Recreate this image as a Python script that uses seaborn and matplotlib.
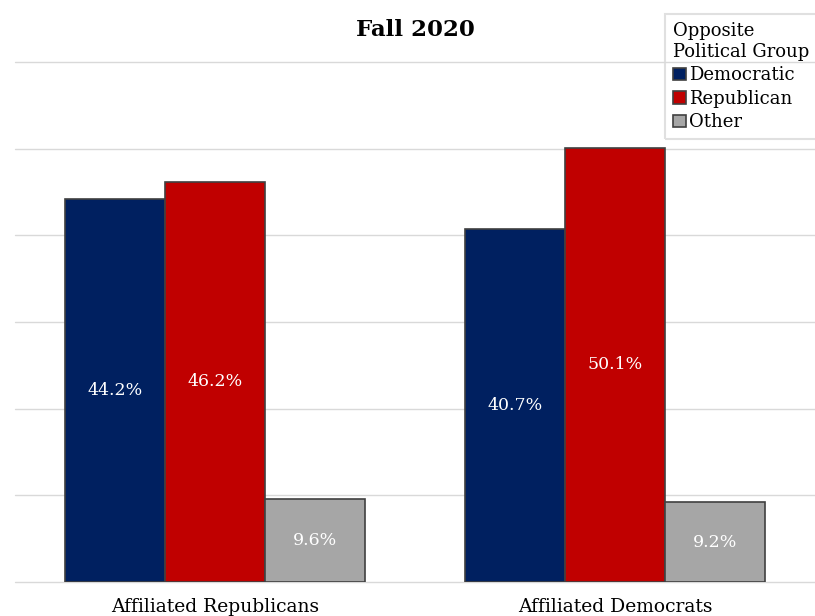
import pandas as pd
import seaborn as sns
import matplotlib.pyplot as plt

plt.switch_backend('Agg')

# Chart data
groups = ["Affiliated Republicans", "Affiliated Democrats"]
series = ["Democratic", "Republican", "Other"]
democratic = [44.2, 40.7]
republican = [46.2, 50.1]
other = [9.6, 9.2]
colors = ["#002060", "#C00000", "#A6A6A6"]

df = pd.DataFrame({
    "group": groups * 3,
    "party": [s for s in series for _ in groups],
    "value": democratic + republican + other,
})

sns.set_style("white")
plt.rcParams['font.family'] = ['DejaVu Serif']
plt.rcParams['text.color'] = 'black'
plt.rcParams['xtick.color'] = 'black'

fig = plt.figure(figsize=(8.15, 6.16), dpi=100)
ax = fig.add_axes([15 / 815, 1 - 582 / 616, 800 / 815, (582 - 62) / 616])

sns.barplot(data=df, x="group", y="value", hue="party", hue_order=series,
            palette=colors, width=0.75, gap=0, edgecolor="#404040",
            linewidth=1.2, saturation=1, ax=ax, legend=True, zorder=3)

# white value labels in the middle of each bar
for cont in ax.containers:
    for bar in cont:
        h = bar.get_height()
        ax.text(bar.get_x() + bar.get_width() / 2, h / 2, f"{h:.1f}%",
                ha="center", va="center", color="white", fontsize=12.5, zorder=4)

ax.set_xlim(-0.5, 1.5)
ax.set_ylim(0, 60)
ax.set_yticks(range(0, 61, 10))
ax.yaxis.grid(True, color="#D9D9D9", linewidth=1)
for gl in ax.get_ygridlines():
    gl.set_clip_on(False)
ax.set_axisbelow(True)
ax.tick_params(axis="y", left=False, labelleft=False)
ax.tick_params(axis="x", bottom=False, labelsize=13.5, pad=8)
ax.set_xlabel("")
ax.set_ylabel("")
for sp in ax.spines.values():
    sp.set_visible(False)

fig.text(415 / 815, 1 - 30 / 616, "Fall 2020", ha="center", va="center",
         fontsize=16.5, fontweight="bold")

leg = ax.legend(title="Opposite\nPolitical Group", loc="upper left",
                bbox_to_anchor=(656 / 815, 1 - 5 / 616),
                bbox_transform=fig.transFigure, frameon=True, fancybox=False,
                fontsize=13, title_fontsize=13, handlelength=0.7,
                handleheight=0.7, handletextpad=0.2, labelspacing=0.3,
                borderpad=0.45, alignment="left")
leg.get_frame().set_edgecolor("#D9D9D9")
leg.get_frame().set_facecolor("none")
leg.get_frame().set_linewidth(1.5)
leg.set_zorder(5)
for h in leg.legend_handles:
    h.set_edgecolor("#404040")

fig.savefig("out.png", dpi=100)
plt.close(fig)
